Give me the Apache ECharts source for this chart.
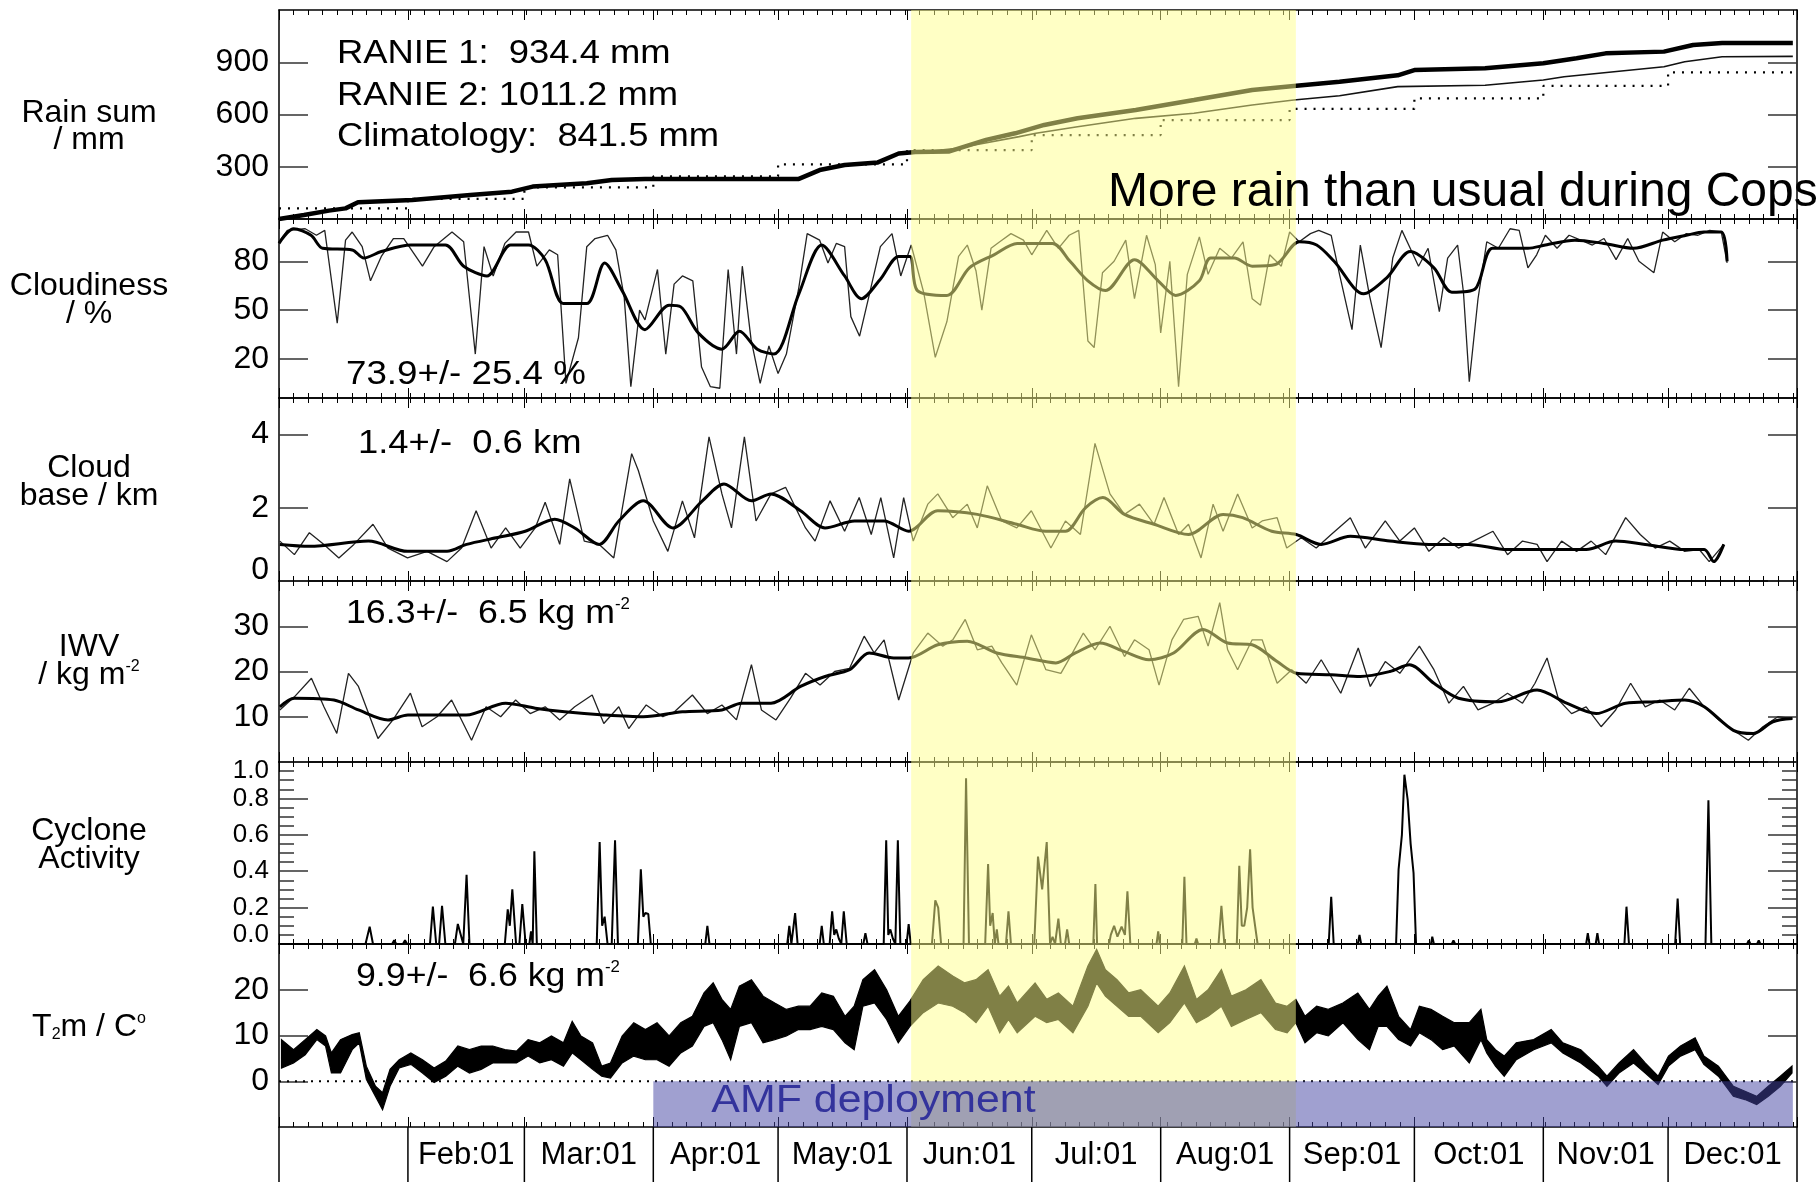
<!DOCTYPE html>
<html>
<head>
<meta charset="utf-8">
<script src="https://cdn.jsdelivr.net/npm/echarts@6/dist/echarts.min.js"></script>
<style>
html, body { margin: 0; padding: 0; background: #fff; }
#main { width: 1820px; height: 1182px; }
</style>
</head>
<body>
<div id="main"></div>
<script>
// x values are day of year 2007 (0 = Jan 01)
const monthStarts = [0, 31, 59, 90, 120, 151, 181, 212, 243, 273, 304, 334, 365];
const monthLabels = ['Feb:01', 'Mar:01', 'Apr:01', 'May:01', 'Jun:01', 'Jul:01', 'Aug:01', 'Sep:01', 'Oct:01', 'Nov:01', 'Dec:01'];
const copsPeriod = [152, 244.5];
const amfPeriod = [90, 364];

// rain sum / mm
const rainTicks = [300, 600, 900];
const rainRanie2 = [[0,0],[6,23],[12,48],[16,61],[19,96],[32,109],[46,138],[56,157],[61,186],[74,205],[80,224],[88,230],[125,230],[130,281],[136,310],[144,325],[149,376],[153,385],[161,387],[170,454],[177,492],[184,540],[192,578],[206,626],[220,683],[234,741],[244,764],[255,788],[269,825],[273,855],[290,865],[304,894],[312,923],[319,951],[333,961],[340,999],[347,1011],[364,1011]];
const rainRanie1 = [[152,377],[163,406],[178,473],[182,492],[192,530],[206,578],[220,607],[234,655],[244,683],[255,708],[269,760],[290,768],[304,798],[309,817],[333,874],[338,903],[347,932],[364,934]];
const rainClimMonthly = [61, 115, 182, 245, 314, 396, 482, 568, 632, 693, 764, 842];

// cloudiness / %
const cloudTicks = [20, 50, 80];
const cloudDaily = [[0,92],[2,99],[6.3,100],[9,96],[11,99],[14,42],[16,93],[17.6,98],[20,89],[22,68],[24.6,83],[27.5,94],[30,94],[34.5,77],[37.3,89],[41.6,98],[44.4,92],[47.2,23],[49.3,89],[51.5,71],[54.3,91],[57,98],[60,98],[62,77],[65,87],[67,84],[69,5],[72,33],[74,89],[76,94],[79,96],[81,87],[83,58],[84.6,3],[86.7,50],[88,44],[91,75],[93,23],[95,66],[97,71],[99.5,68],[101.6,15],[103.7,3],[106,2],[108,75],[110,23],[111.4,77],[113.5,32],[115.7,5],[117.8,28],[120,11],[122,23],[125,64],[127,97],[130,93],[132,79],[134,91],[136,89],[137.5,46],[139.6,34],[141.8,58],[144.6,89],[147.4,97],[149.5,71],[152,90],[155,61],[157.8,21],[160.6,43],[163.4,83],[165.5,90],[167.6,74],[169,50],[171.2,88],[173.3,92],[176,97],[179,93],[181,84],[184.6,99],[187.4,88],[190,96],[192.3,99],[194.5,31],[196,27],[198,73],[200.8,80],[203.6,93],[205.7,57],[208.6,96],[210.7,78],[212,36],[214.2,80],[216.3,3],[218.4,72],[221.3,95],[223.4,72],[226.2,88],[229,82],[231.8,92],[234,57],[236,53],[238.2,84],[241,77],[243,98],[245.3,92],[248,97],[250,99],[253,96],[255,72],[258,38],[260,90],[262.2,59],[265,27],[267.8,82],[270,99],[272,88],[274,77],[276.3,88],[279,49],[281,82],[283.4,90],[284.8,61],[286.2,6],[288.3,57],[290.4,92],[293.2,88],[296,100],[298.2,99],[300.3,76],[302.4,84],[304.5,96],[307.3,88],[310.2,96],[313,93],[315.8,90],[318.6,94],[321.5,81],[324.3,94],[327,80],[330.6,73],[332.7,98],[335.6,92],[338.4,97],[341.2,96],[344,99],[346.8,98],[348.2,79]];
const cloudSmooth = [[0,91],[3.5,100],[7.7,96],[10.5,88],[17.6,87],[20.4,82],[24.6,86],[31.7,90],[40,90],[44.4,77],[50,71],[55.7,90],[60,90],[64,81],[68.4,54],[74,54],[78.3,79],[82.5,62],[88,38],[93.8,53],[96.6,52],[100.8,36],[106.5,26],[110.7,37],[115,26],[119,23],[125,60],[130.5,90],[136,71],[140,57],[144.6,69],[149,83],[151.7,83],[153.5,62],[160.6,59],[166,76],[171.9,84],[177.5,91],[186,91],[190.2,80],[194.5,68],[198.7,62],[205.7,81],[211.4,68],[215.6,59],[221.3,68],[224,82],[229.7,82],[234,77],[239.6,78],[245.3,92],[249.5,90],[253.7,80],[260.8,60],[266.4,70],[272,86],[277.7,76],[282,61],[287.6,63],[291.8,88],[300.3,88],[304.5,90],[311.6,93],[318.6,91],[325.7,88],[332.7,93],[338.4,96],[342.6,98],[346.8,98],[348.2,80]];

// cloud base / km
const baseTicks = [0, 2, 4];
const baseDaily = [[0.2,1.09],[3.7,0.72],[7.3,1.32],[10.8,1.0],[14.4,0.63],[18,1.0],[22.6,1.55],[26.2,0.9],[30.9,0.63],[35.6,0.81],[40.4,0.53],[43.9,0.9],[47.4,1.92],[51,0.9],[54.5,1.45],[58,0.9],[61.6,1.45],[64,2.15],[67.5,1.0],[69.9,2.79],[73.4,1.09],[77,1.0],[80.5,0.63],[84.8,3.48],[86.4,3.02],[90,1.64],[93.5,0.81],[97,2.19],[99.9,1.18],[103.4,3.94],[106.5,2.38],[108.8,1.45],[111.9,3.94],[114.7,1.64],[118.3,2.38],[121.8,2.56],[126.6,1.45],[128.9,1.09],[132.5,2.19],[136,1.36],[139.5,2.28],[142.4,1.27],[144.7,2.28],[147.8,0.63],[150.2,2.28],[152.5,1.09],[156,2.1],[158.4,2.38],[162,1.73],[165.5,2.1],[167.9,1.45],[170.3,2.6],[173.8,1.64],[177.4,1.45],[180.9,1.92],[185.6,0.9],[189.1,1.64],[192.7,1.27],[196.2,3.76],[199.8,2.38],[203.3,1.82],[206.9,2.1],[210.4,1.55],[212.8,2.28],[216.3,1.27],[218.7,1.55],[221.7,0.63],[224.6,2.1],[227,1.36],[230.5,2.38],[234,1.45],[236.4,1.64],[240,1.73],[242.3,0.9],[245.8,1.18],[249.4,0.9],[253,1.27],[257.6,1.73],[261.2,0.9],[266,1.64],[269.5,1.09],[273,1.45],[276.5,0.81],[280.1,1.18],[283.6,0.9],[287.2,1.09],[291.9,1.36],[295.4,0.72],[299,1.09],[302.5,1.0],[304.9,0.53],[308.4,1.09],[312,0.81],[315.5,1.09],[319,0.72],[323.8,1.73],[327.3,1.27],[330.9,0.9],[334.4,1.09],[338,0.81],[341.5,0.86],[343.9,0.53],[347.4,1.0]];
const baseSmooth = [[0.2,1.0],[7.3,0.95],[21.5,1.09],[30.9,0.81],[40.4,0.81],[45.1,1.0],[52.2,1.18],[59.2,1.36],[66.3,1.69],[71.1,1.45],[77,1.0],[81.7,1.64],[87.6,2.19],[94.7,1.45],[101.8,2.19],[107,2.65],[113.6,2.19],[118.3,2.38],[125.4,1.92],[131.3,1.45],[138.4,1.64],[145.5,1.64],[151.4,1.36],[158.4,1.92],[167.9,1.82],[177.4,1.55],[184.4,1.36],[189.1,1.36],[193.9,2.0],[198.1,2.28],[203.3,1.82],[210.4,1.55],[218.7,1.27],[227,1.82],[231.7,1.73],[238.7,1.36],[244.6,1.27],[250.6,1.0],[257.6,1.22],[267.1,1.09],[276.5,1.0],[286,1.0],[295.4,0.86],[304.9,0.86],[314.3,0.86],[321.4,1.09],[328.5,1.0],[338,0.86],[342.7,0.86],[345,0.53],[347.4,1.0]];

// IWV / kg m-2
const iwvTicks = [10, 20, 30];
const iwvDaily = [[0.2,11.5],[3.7,14.4],[7.8,18.5],[10.8,12.2],[13.9,6.3],[16.7,19.6],[19.1,16.7],[23.8,5.2],[27.4,9.3],[31.6,15.2],[34.4,7.8],[38,10],[41.5,13.7],[46.3,4.8],[49.8,12.2],[53.3,10],[56.9,13.7],[60.4,10.7],[64,12.2],[67.5,9.3],[71.1,12.2],[75.3,14.8],[78.1,8.5],[81.7,12.2],[84.1,7.4],[88.3,12.6],[92.3,10],[95.1,11.1],[99.4,14.8],[103,10.7],[106.5,12.6],[110,9.3],[113.6,21.5],[116,11.5],[119.5,9.3],[123,14.1],[126.6,19.6],[130.1,17],[133.6,20],[137.2,20.7],[140.7,27.8],[143.1,24.1],[145.5,27],[149,13.7],[152.5,24.1],[156,28.5],[159.6,25.6],[162,27],[165,31.5],[167.9,24.8],[171.4,25.6],[173.8,21.9],[177.4,17],[180.9,28.1],[184.4,20.4],[188,19.6],[190.3,23.3],[193.4,28.5],[196.2,24.8],[199.8,30],[203.3,23.3],[205.7,27],[209.2,24.8],[211.6,17],[214.7,27],[217.5,31.5],[221,32.2],[223.4,25.6],[226.2,35.2],[228.1,24.8],[230.5,20.4],[234,27],[236.4,27],[240,17.4],[243.5,20.4],[247,17.4],[250.6,22.6],[255.3,15.2],[259.5,25.2],[262.4,16.7],[266,22.2],[269.5,19.6],[274.2,25.6],[277.7,20.4],[281.3,13],[284.8,16.7],[288.3,11.5],[291.9,13],[295.4,15.2],[299,13],[302,17.4],[304.9,23],[307.7,13.7],[310.8,10.7],[314.3,12.2],[317.9,7.8],[321.4,11.5],[325,17.4],[328.5,12.2],[332,13.7],[335.6,11.5],[339.1,16.3],[342.7,12.2],[346.2,9.3],[349.7,7.0],[353.3,4.8],[356.8,7.8],[360.4,10],[363.9,9.6]];
const iwvSmooth = [[0.2,12.2],[3.7,14.1],[13.2,13.7],[19.1,11.5],[26.2,9.3],[31,10.4],[45,10.4],[54.5,13],[61.6,11.9],[68.7,11.1],[78.1,10.4],[87.6,10],[97,11.1],[106.5,11.5],[111.2,13],[118.3,13],[125.4,16.7],[131.3,18.9],[137.2,20.4],[141.9,24.1],[147.8,23],[151.4,23],[158.4,25.9],[165.5,26.7],[172.6,24.1],[179.7,23],[186.8,21.9],[191.5,24.1],[197.4,26.3],[203.3,24.4],[209.2,22.6],[215.1,24.1],[222.2,29.3],[228.1,26.3],[234,25.9],[240,22.2],[244.7,19.6],[253,19.3],[260,18.9],[267.1,20],[271.8,21.5],[277.7,17.4],[283.6,14.1],[293.1,13.3],[302.5,15.9],[309.6,13],[316.7,10.7],[323.8,13],[330.9,13.3],[338,13.7],[342.7,12.2],[349.7,7],[354.5,6.3],[359.2,8.9],[363.9,9.6]];

// cyclone activity
const cycloneActivity = [[0,0],[20.8,0],[21.8,0.095],[22.6,0],[27.2,0],[27.7,0.02],[28.2,0],[29.8,0],[30.3,0.02],[30.8,0],[36.3,0],[37,0.205],[37.8,0],[38.5,0],[39.2,0.21],[40,0],[42.3,0],[43,0.11],[44.3,0],[45.1,0.38],[45.8,0],[54.3,0],[55,0.19],[55.5,0.10],[56.1,0.30],[57,0],[57.8,0],[58.5,0.22],[59.3,0],[60.2,0],[60.6,0.07],[61,0],[61.4,0.51],[62,0],[76.4,0],[77.1,0.56],[77.7,0.1],[78.3,0.15],[79,0],[80,0],[80.8,0.57],[81.5,0],[86.3,0],[87,0.41],[87.6,0.15],[88.1,0.17],[88.8,0.165],[89.4,0],[102.5,0],[103,0.10],[103.5,0],[122.2,0],[122.7,0.10],[123.2,0],[123.6,0],[124.1,0.17],[124.7,0],[130,0],[130.5,0.10],[131,0],[132.4,0],[133,0.18],[133.5,0.05],[134,0.08],[134.6,0.03],[135.2,0],[135.8,0.18],[136.5,0],[140.5,0],[141,0.06],[141.5,0],[145.4,0],[146,0.57],[146.5,0.05],[147,0.08],[147.6,0.03],[148.2,0],[148.8,0.57],[149.4,0],[150.9,0],[151.4,0.11],[151.9,0],[157,0],[157.8,0.24],[158.5,0.2],[159.2,0],[164.6,0],[165.2,0.91],[165.9,0],[169.8,0],[170.5,0.44],[171,0.1],[171.6,0.17],[172.1,0],[172.6,0.08],[173,0],[174.8,0],[175.4,0.18],[176,0],[181.6,0],[182.5,0.48],[183.5,0.3],[184.6,0.56],[185.4,0],[186,0.04],[186.6,0],[187.4,0.14],[188,0],[189,0],[189.5,0.08],[190,0],[195.8,0],[196.3,0.33],[196.8,-0.08],[197.3,0],[199.6,0],[200,0.05],[200.8,0.10],[201.6,0.04],[202.6,0.095],[203.4,0.05],[204,0.29],[204.7,0],[211,0],[211.4,0.07],[211.8,0],[217.2,0],[217.7,0.37],[218.2,0],[220.2,0],[220.6,0.03],[221,0],[225.9,0],[226.6,0.21],[227.3,0],[230.3,0],[230.9,0.43],[231.5,0.1],[232.1,0.1],[232.8,0.2],[233.5,0.52],[234.1,0.2],[234.7,0.1],[235.3,0],[252.4,0],[253,0.26],[253.6,0],[259.4,0],[259.8,0.05],[260.2,0],[268.6,0],[269.2,0.41],[270,0.6],[270.6,0.93],[271.4,0.79],[272.1,0.55],[272.8,0.39],[273.4,0],[277,0],[277.3,0.04],[277.7,0],[282,0],[282.4,0.02],[282.8,0],[314.3,0],[314.7,0.06],[315.1,0],[316.6,0],[317,0.06],[317.4,0],[323.5,0],[324,0.205],[324.6,0],[335.7,0],[336.3,0.25],[336.9,0],[343,0],[343.7,0.79],[344.4,0],[353,0],[353.4,0.02],[353.8,0],[355.4,0],[355.8,0.02],[356.2,0],[365,0]];

// 2 m temperature, lower / upper envelope of the diurnal cycle
const tTicks = [0, 10, 20];
const tDays = [0.6,3.5,6.3,9.1,11.2,12.6,14.8,17.6,19.3,21,23.2,24.9,26.7,28.9,31.7,34.5,37.3,40.1,43,45.8,48.6,51.4,54.3,57.1,59.9,62.7,65.5,68.4,70.5,72.6,75.4,77.6,79.7,82.5,85.3,88.1,90.9,93.8,96.6,99.4,102.2,104.4,106.5,108.6,110.7,113.6,116.4,119.2,122,124.9,127.7,130.5,133.3,136.1,138.3,140.4,143.2,146.1,148.9,151.7,154.9,158.5,162,164.8,167.6,170.5,173.3,175.4,177.5,181.8,184.6,187.4,190.9,194.5,196.6,198.7,201.5,204.3,207.2,211.4,214.2,217.7,220.6,223.4,226.6,229,232.5,236.1,239.6,242.4,244.5,246.7,249.5,252.3,255.8,259.4,262.2,264.3,266.4,269.2,272.1,274.2,277,279.8,282.6,286.2,289,290.4,292.5,294.6,297.5,301.7,305.9,308.7,313,317.2,319.3,322.2,325.7,328.5,331.6,334.1,337,340.5,342.6,346.1,349.7,352.5,355.3,358.1,361,363.8];
const tHigh = [9.1,6.9,9.1,11.3,9.9,6.2,9.1,10.2,10.6,3.3,-1.1,-2.5,2.6,4.7,6.2,4.7,2.9,4.4,7.7,6.9,7.7,7.7,6.9,6.6,9.1,8.4,9.9,8.4,13.1,9.9,8.4,3.3,4,9.9,12.8,11.3,12.8,9.9,12.8,14.2,19.3,21.5,17.9,15.7,20.8,22.2,18.6,17.1,15.7,16.4,16.4,19.3,18.6,14.2,16.4,22.2,24.4,20,14.2,17.5,22.2,25.2,23,21.5,22.2,24.4,18.6,20.8,17.1,21.5,17.9,19.3,16.4,25.2,28.8,24.4,22.2,19.3,20,16.4,19.3,25.2,17.9,20,24.4,18.6,20,22.2,17.1,16.4,17.9,14.2,16.4,15.7,17.1,19.3,15.7,18.6,20.8,14.2,11.3,16.4,15.7,14.2,12.8,12.8,15.7,9.1,6.9,5.5,8.4,9.1,11.3,8.4,6.9,3.3,1.1,4,6.9,4,1.1,5.5,7.7,9.5,5.5,3.3,-1.1,-2.2,-3.3,-1.1,1.1,3.3];
const tLow = [2.9,4,5.8,9.1,7.7,1.8,1.8,6.9,8.4,0.4,-3.3,-6.2,-1.1,2.9,3.7,1.8,-0.3,1.1,3.3,1.8,2.6,4,4,4,5.5,4,4.7,3.3,6.2,4.7,2.6,1.1,0.7,4,5.5,4.7,4.7,3.3,6.2,7.7,12,12.8,9.1,4.7,12,12.8,8.4,9.1,9.9,11.3,11.3,12,11.3,8.4,6.9,16.4,17.1,13.5,8.4,12,15,17.1,16.4,15,12.8,16.4,10.6,13.5,10.6,14.2,12.8,13.5,10.6,16.4,21.5,18.6,16.4,14.2,14.2,10.6,12.8,17.1,12.8,14.2,16.4,12,13.5,15,11.3,10.6,12.8,8.4,10.6,9.9,12.8,9.1,6.9,12,12,9.1,7.7,10.6,9.1,6.9,7.7,4,9.1,6.2,3.3,1.1,4.7,6.9,8.4,6.2,4,1.1,-1.1,1.8,4,1.8,-0.7,3.3,5.5,6.9,3.7,1.1,-3.3,-4,-5.1,-3.3,-1.1,1.8];

const rainStats = ['RANIE 1:  934.4 mm', 'RANIE 2: 1011.2 mm', 'Climatology:  841.5 mm'];
const panelStats = ['73.9+/- 25.4 %', '1.4+/-  0.6 km', '16.3+/-  6.5 kg m{sup|-2}', '9.9+/-  6.6 kg m{sup|-2}'];

// ---- build ----
const FONT = "'Liberation Sans', Arial, Helvetica, sans-serif";
const chart = echarts.init(document.getElementById('main'), null, {renderer: 'canvas'});

const grids = [
  {left: 279, right: 23, top: 10, height: 209},
  {left: 279, right: 23, top: 219, height: 179},
  {left: 279, right: 23, top: 398, height: 183},
  {left: 279, right: 23, top: 581, height: 181},
  {left: 279, right: 23, top: 762, height: 182},
  {left: 279, right: 23, top: 944, height: 183}
];

const ySpecs = [
  {min: 0, max: 1200, ticks: rainTicks},
  {min: -4, max: 106, ticks: cloudTicks},
  {min: 0, max: 5, ticks: baseTicks, vMin: 'bottom', lh: 22},
  {min: 0, max: 40, ticks: iwvTicks},
  {min: 0, max: 1, interval: 0.2, minor: true, fs: 26, fmt: v => v.toFixed(1), vMin: 'bottom', vMax: 'top', lh: 18},
  {min: -10, max: 30, ticks: tTicks}
];

const minorX = [];
for (let d = 0; d <= 365; d += 3.5) minorX.push(d);
const monthMids = [];
const labelOf = {};
for (let i = 1; i < 12; i++) {
  const m = (monthStarts[i] + monthStarts[i + 1]) / 2;
  monthMids.push(m);
  labelOf[String(m)] = monthLabels[i - 1];
}

function xAx(gi, pos, ticks, len, showLine) {
  return {
    type: 'value', gridIndex: gi, min: 0, max: 365, position: pos,
    axisLine: {show: showLine, onZero: false, lineStyle: {color: '#000', width: 1.5}},
    axisTick: {show: true, inside: true, length: len, customValues: ticks, lineStyle: {color: '#000', width: 1}},
    axisLabel: {show: false},
    splitLine: {show: false}
  };
}

function yAx(gi, s, right) {
  const ax = {
    type: 'value', gridIndex: gi, min: s.min, max: s.max, position: right ? 'right' : 'left',
    axisLine: {show: true, onZero: false, lineStyle: {color: '#000', width: 1.5}},
    axisTick: {show: true, inside: true, length: 29, lineStyle: {color: '#333', width: 1.5}},
    minorTick: s.minor ? {show: true, splitNumber: 4, length: 15, lineStyle: {color: '#333', width: 1.5}} : {show: false},
    axisLabel: right ? {show: false} : {
      show: true, fontSize: s.fs || 32, fontFamily: FONT, color: '#000', margin: 10,
      showMinLabel: true, showMaxLabel: true, hideOverlap: false
    },
    splitLine: {show: false}
  };
  if (s.interval) ax.interval = s.interval;
  if (s.ticks) {
    ax.axisTick.customValues = s.ticks;
    if (!right) ax.axisLabel.customValues = s.ticks;
  }
  if (!right) {
    if (s.fmt) ax.axisLabel.formatter = s.fmt;
    if (s.vMin) ax.axisLabel.verticalAlignMinLabel = s.vMin;
    if (s.vMax) ax.axisLabel.verticalAlignMaxLabel = s.vMax;
    if (s.lh) ax.axisLabel.lineHeight = s.lh;
  }
  return ax;
}

const xAxes = [], yAxes = [];
grids.forEach((g, gi) => {
  xAxes.push(xAx(gi, 'bottom', minorX, 5, true));
  xAxes.push(xAx(gi, 'top', minorX, 5, true));
  xAxes.push(xAx(gi, 'bottom', monthStarts, 10, false));
  xAxes.push(xAx(gi, 'top', monthStarts, 10, false));
  yAxes.push(yAx(gi, ySpecs[gi], false));
  yAxes.push(yAx(gi, ySpecs[gi], true));
});
// month labels under the last panel
xAxes[20].axisLabel = {
  show: true, customValues: monthMids, formatter: v => labelOf[String(v)] || '',
  fontSize: 31, fontFamily: FONT, color: '#000', margin: 13
};

function line(gi, data, width, color, extra) {
  return Object.assign({
    type: 'line', xAxisIndex: gi * 4, yAxisIndex: gi * 2, data: data,
    showSymbol: false, symbol: 'none', silent: true, z: 3,
    lineStyle: {color: color, width: width}
  }, extra || {});
}

const climData = rainClimMonthly.map((v, i) => [monthStarts[i], v]);
climData.push([365, rainClimMonthly[11]]);

const series = [
  line(0, climData, 2, '#000', {step: 'end', lineStyle: {color: '#000', width: 2.2, type: [2, 7]}}),
  line(0, rainRanie1, 1.6, '#111'),
  line(0, rainRanie2, 4.5, '#000'),
  line(1, cloudDaily, 1.3, '#222'),
  line(1, cloudSmooth, 3, '#000', {smooth: 0.3}),
  line(2, baseDaily, 1.3, '#222'),
  line(2, baseSmooth, 3, '#000', {smooth: 0.3}),
  line(3, iwvDaily, 1.3, '#222'),
  line(3, iwvSmooth, 3, '#000', {smooth: 0.3}),
  line(4, cycloneActivity, 2, '#000'),
  line(5, [[0, 0], [365, 0]], 2, '#000', {lineStyle: {color: '#000', width: 2, type: [2, 6]}})
];

// temperature band: upper envelope forward, lower envelope back
series.push({
  type: 'custom', xAxisIndex: 20, yAxisIndex: 10, z: 3, silent: true,
  data: [[tDays[0], tLow[0]]],
  renderItem: (params, api) => {
    const pts = [];
    tDays.forEach((d, i) => pts.push(api.coord([d, tHigh[i]])));
    for (let i = tDays.length - 1; i >= 0; i--) pts.push(api.coord([tDays[i], tLow[i]]));
    return {type: 'polygon', shape: {points: pts}, style: {fill: '#000', stroke: '#000', lineWidth: 1.2}};
  }
});

// yellow COPS shading over every panel
grids.forEach((g, gi) => {
  series.push({
    type: 'custom', xAxisIndex: gi * 4, yAxisIndex: gi * 2, z: 10, silent: true,
    data: [[copsPeriod[0], copsPeriod[1], 0]], encode: {x: [0, 1], y: 2},
    renderItem: (params, api) => {
      const x1 = api.coord([api.value(0), 0])[0];
      const x2 = api.coord([api.value(1), 0])[0];
      const cs = params.coordSys;
      return {type: 'rect', shape: {x: x1, y: cs.y, width: x2 - x1, height: cs.height},
        style: {fill: 'rgba(255,255,140,0.5)'}};
    }
  });
});

// AMF deployment bar
series.push({
  type: 'custom', xAxisIndex: 20, yAxisIndex: 10, z: 11, silent: true,
  data: [[amfPeriod[0], amfPeriod[1], 0]], encode: {x: [0, 1], y: 2},
  renderItem: (params, api) => {
    const p1 = api.coord([api.value(0), 0]);
    const p2 = api.coord([api.value(1), -10]);
    return {type: 'group', children: [
      {type: 'rect', shape: {x: p1[0], y: p1[1], width: p2[0] - p1[0], height: p2[1] - p1[1]},
        style: {fill: 'rgba(69,69,163,0.51)'}},
      {type: 'text', x: p1[0] + 58, y: (p1[1] + p2[1]) / 2 - 3, z2: 10, scaleX: 1.1,
        style: {text: 'AMF deployment', fontSize: 39, fontFamily: FONT, fill: '#33339c', align: 'left', verticalAlign: 'middle'}}
    ]};
  }
});

// month separators in the label strip
series.push({
  type: 'custom', xAxisIndex: 20, yAxisIndex: 10, z: 12, silent: true, clip: false,
  data: monthStarts.map(d => [d, -10]),
  renderItem: (params, api) => {
    const p = api.coord([api.value(0), -10]);
    return {type: 'line', shape: {x1: p[0], y1: p[1], x2: p[0], y2: p[1] + 60},
      style: {stroke: '#000', lineWidth: 1.5}};
  }
});

function txt(text, x, y, size, align, sx) {
  return {
    type: 'text', x: x, y: y, z: 100, scaleX: sx || 1,
    style: {text: text, fontSize: size, fontFamily: FONT, fill: '#000', align: align || 'left', verticalAlign: 'middle',
      rich: {sup: {fontSize: 16, verticalAlign: 'top', fontFamily: FONT}, sub: {fontSize: 16, verticalAlign: 'bottom', fontFamily: FONT}}}
  };
}

const graphic = [
  txt('Rain sum', 89, 113, 32, 'center'),
  txt('/ mm', 89, 140, 32, 'center'),
  txt('Cloudiness', 89, 286, 32, 'center'),
  txt('/ %', 89, 314, 32, 'center'),
  txt('Cloud', 89, 468, 32, 'center'),
  txt('base / km', 89, 496, 32, 'center'),
  txt('IWV', 89, 647, 32, 'center'),
  txt('/ kg m{sup|-2}', 89, 675, 32, 'center'),
  txt('Cyclone', 89, 831, 32, 'center'),
  txt('Activity', 89, 859, 32, 'center'),
  txt('T{sub|2}m / C{sup|o}', 89, 1027, 32, 'center'),
  txt(rainStats[0], 337, 54, 34, 'left', 1.07),
  txt(rainStats[1], 337, 96, 34, 'left', 1.07),
  txt(rainStats[2], 337, 137, 34, 'left', 1.07),
  txt('More rain than usual during Cops', 1108, 193, 48),
  txt(panelStats[0], 346, 375, 34, 'left', 1.08),
  txt(panelStats[1], 358, 444, 34, 'left', 1.07),
  txt(panelStats[2], 346, 614, 34, 'left', 1.05),
  txt(panelStats[3], 356, 977, 34, 'left', 1.05)
];

chart.setOption({
  backgroundColor: '#fff',
  animation: false,
  grid: grids,
  xAxis: xAxes,
  yAxis: yAxes,
  series: series,
  graphic: graphic
});

window.onresize = function () {
  chart.resize();
};
</script>
</body>
</html>
